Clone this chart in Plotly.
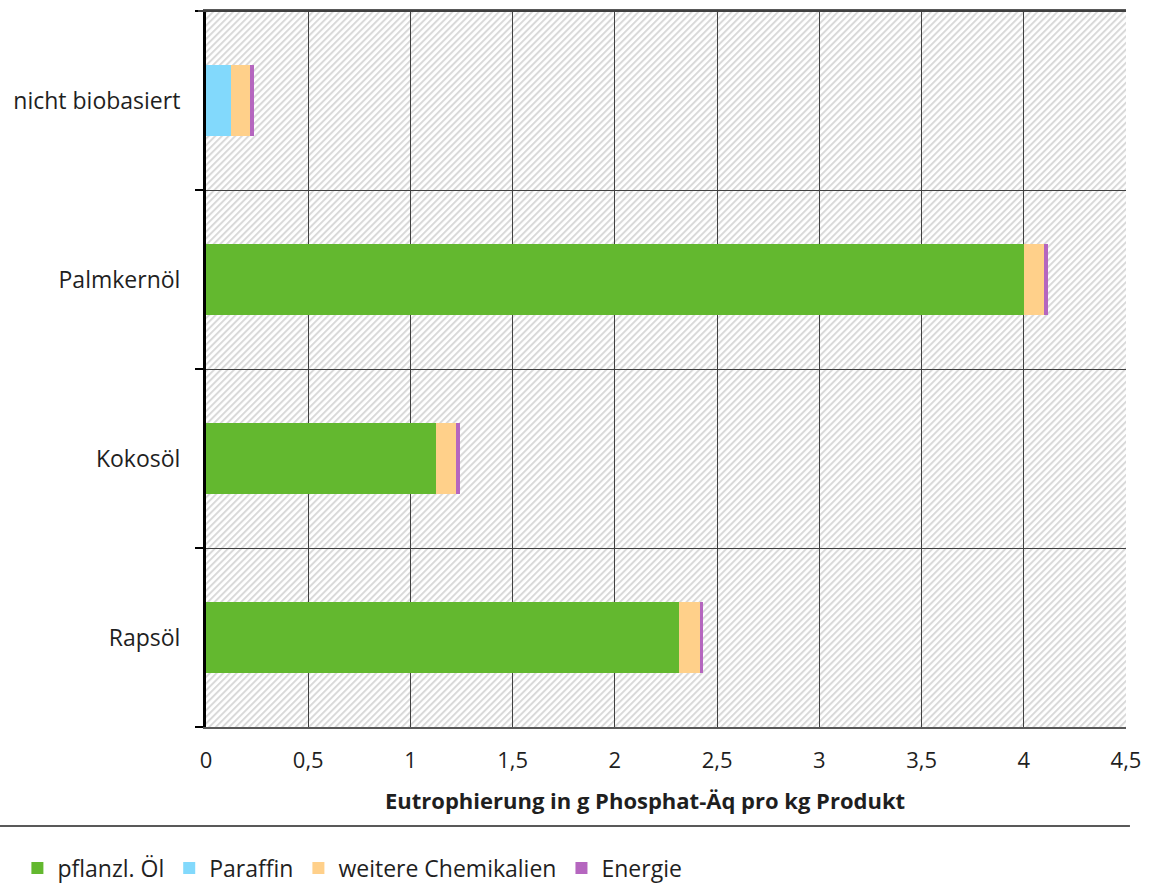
import base64
import plotly.graph_objects as go

# Categories from bottom to top
categories = ["Rapsöl", "Kokosöl", "Palmkernöl", "nicht biobasiert"]

# Eutrophication contributions in g phosphate-eq per kg product
pflanzl_oel = [2.316, 1.126, 4.00, 0.0]
paraffin = [0.0, 0.0, 0.0, 0.122]
weitere_chemikalien = [0.098, 0.098, 0.098, 0.093]
energie = [0.019, 0.019, 0.019, 0.019]

x_ticks = [0, 0.5, 1, 1.5, 2, 2.5, 3, 3.5, 4, 4.5]
x_tick_labels = ["0", "0,5", "1", "1,5", "2", "2,5", "3", "3,5", "4", "4,5"]
x_max = 4.5

series = [
    ("pflanzl. Öl", pflanzl_oel, "#63B82F"),
    ("Paraffin", paraffin, "#82D9FC"),
    ("weitere Chemikalien", weitere_chemikalien, "#FFD08A"),
    ("Energie", energie, "#B566BF"),
]

FONT = "Open Sans"
TEXT = "#1f1f1f"

# plot area geometry (pixels)
W, H = 1156, 884
ML, MR, MT, MB = 206, 30, 11, 157
PW, PH = W - ML - MR, H - MT - MB

# diagonal hatch used as the plot-area background
hatch_svg = (
    f'<svg xmlns="http://www.w3.org/2000/svg" width="{PW}" height="{PH}" '
    f'viewBox="0 0 {PW} {PH}" preserveAspectRatio="none">'
    '<defs><pattern id="h" width="4.7" height="4.7" patternUnits="userSpaceOnUse" '
    'patternTransform="rotate(45)"><rect x="0" y="0" width="2" height="4.7" fill="#d9d9d9"/>'
    '</pattern></defs>'
    f'<rect width="{PW}" height="{PH}" fill="white"/>'
    f'<rect width="{PW}" height="{PH}" fill="url(#h)"/></svg>'
)
hatch_uri = "data:image/svg+xml;base64," + base64.b64encode(hatch_svg.encode()).decode()

fig = go.Figure()
for name, vals, color in series:
    fig.add_trace(go.Bar(
        y=categories, x=vals, name=name, orientation="h", width=0.4,
        marker=dict(color=color, line=dict(width=0)),
    ))

axis_line = "#595959"
fig.update_layout(
    width=W, height=H,
    margin=dict(l=ML, r=MR, t=MT, b=MB, autoexpand=False),
    paper_bgcolor="white", plot_bgcolor="white",
    barmode="stack", bargap=0,
    font=dict(family=FONT, size=22, color=TEXT),
    xaxis=dict(
        range=[0, x_max], tickvals=x_ticks, ticktext=x_tick_labels,
        showgrid=True, gridcolor="#404040", gridwidth=1,
        showline=True, linecolor=axis_line, linewidth=2, mirror=True,
        ticks="", zeroline=False, ticklabelstandoff=13,
        tickfont=dict(family=FONT, size=22, color=TEXT),
    ),
    yaxis=dict(
        type="category", categoryorder="array", categoryarray=categories,
        range=[-0.5, len(categories) - 0.5],
        tickson="boundaries", ticks="outside", ticklen=8, tickcolor="black", tickwidth=2,
        showgrid=True, gridcolor="#404040", gridwidth=1,
        showline=True, linecolor="black", linewidth=3, mirror=False,
        ticklabelstandoff=18,
        tickfont=dict(family=FONT, size=23, color=TEXT),
    ),
    images=[dict(
        source=hatch_uri, xref="paper", yref="paper", x=0, y=1,
        sizex=1, sizey=1, xanchor="left", yanchor="top",
        sizing="stretch", layer="below",
    )],
    legend=dict(
        orientation="h", x=-0.205, xanchor="left", y=-0.197, yanchor="middle",
        font=dict(family=FONT, size=23, color=TEXT),
        traceorder="normal", itemwidth=30,
    ),
    annotations=[dict(
        text="<b>Eutrophierung in g Phosphat-Äq pro kg Produkt</b>",
        xref="paper", yref="paper", x=0.477, y=-0.102,
        xanchor="center", yanchor="middle", showarrow=False,
        font=dict(family=FONT, size=22, color=TEXT),
    )],
    shapes=[
        dict(type="line", xref="paper", yref="paper",
             x0=-0.2239, x1=1.0043, y0=-0.1383, y1=-0.1383,
             line=dict(color=axis_line, width=2)),
        # top border of the plot area
        dict(type="line", xref="paper", yref="paper",
             x0=-0.0087, x1=1, y0=1, y1=1,
             line=dict(color="#404040", width=2)),
    ],
    showlegend=True,
)

fig.write_html("out.html")
